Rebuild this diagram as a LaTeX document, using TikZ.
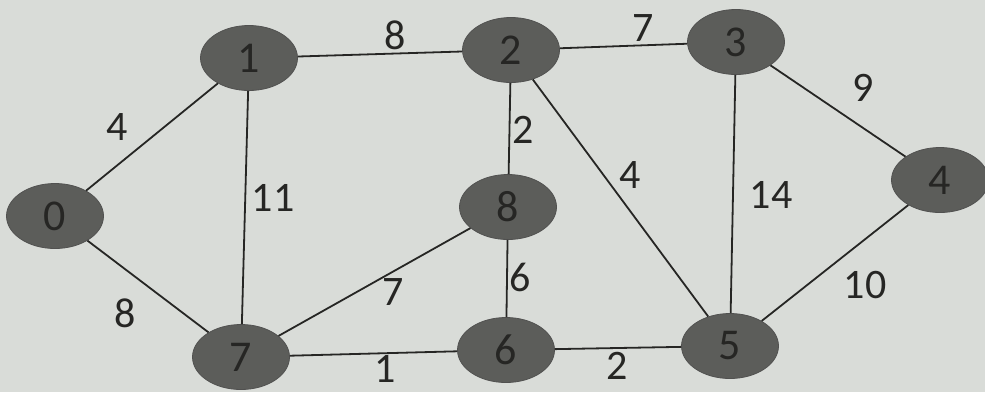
\documentclass[tikz,border=0pt]{standalone}
\usepackage{fontspec}
\setmainfont{Carlito}
\usetikzlibrary{shapes.geometric}
\definecolor{bgc}{HTML}{D9DCD8}
\definecolor{nodec}{HTML}{5C5D5A}
\definecolor{inkc}{HTML}{262624}
\tikzset{
  vtx/.style={ellipse, fill=nodec, draw=inkc!80, line width=0.8pt, minimum width=97pt, minimum height=65pt, inner sep=0pt, text=inkc, font=\fontsize{44}{44}\selectfont},
  wlab/.style={text=inkc, font=\fontsize{42}{42}\selectfont, inner sep=0pt},
  edge/.style={draw=inkc, line width=1.8pt}
}
\begin{document}
\begin{tikzpicture}[x=1pt,y=-1pt]
\fill[bgc] (0,0) rectangle (985,392);
\useasboundingbox (0,0) rectangle (985,392);
\node[vtx] (n0) at (55,216) {0};
\node[vtx] (n1) at (249,58) {1};
\node[vtx] (n2) at (511,50) {2};
\node[vtx] (n3) at (736,42) {3};
\node[vtx] (n4) at (940,180) {4};
\node[vtx] (n5) at (730,346) {5};
\node[vtx] (n6) at (506,350) {6};
\node[vtx] (n7) at (241,357) {7};
\node[vtx] (n8) at (508,207) {8};
\draw[edge] (n0) -- (n1);
\draw[edge] (n0) -- (n7);
\draw[edge] (n1) -- (n2);
\draw[edge] (n1) -- (n7);
\draw[edge] (n2) -- (n3);
\draw[edge] (n2) -- (n8);
\draw[edge] (n2) -- (n5);
\draw[edge] (n3) -- (n4);
\draw[edge] (n3) -- (n5);
\draw[edge] (n4) -- (n5);
\draw[edge] (n8) -- (n7);
\draw[edge] (n8) -- (n6);
\draw[edge] (n7) -- (n6);
\draw[edge] (n6) -- (n5);
\node[wlab] (w01) at (117,127) {4};
\node[wlab] (w07) at (125,313) {8};
\node[wlab] (w17) at (273,198) {11};
\node[wlab] (w12) at (395,35) {8};
\node[wlab] (w23) at (643,28) {7};
\node[wlab] (w28) at (523,130) {2};
\node[wlab] (w25) at (630,175) {4};
\node[wlab] (w86) at (520,277) {6};
\node[wlab] (w65) at (617,366) {2};
\node[wlab] (w35) at (771,195) {14};
\node[wlab] (w34) at (863,88) {9};
\node[wlab] (w45) at (865,285) {10};
\node[wlab] (w78) at (393,292) {7};
\node[wlab] (w76) at (385,369) {1};
\end{tikzpicture}
\end{document}
